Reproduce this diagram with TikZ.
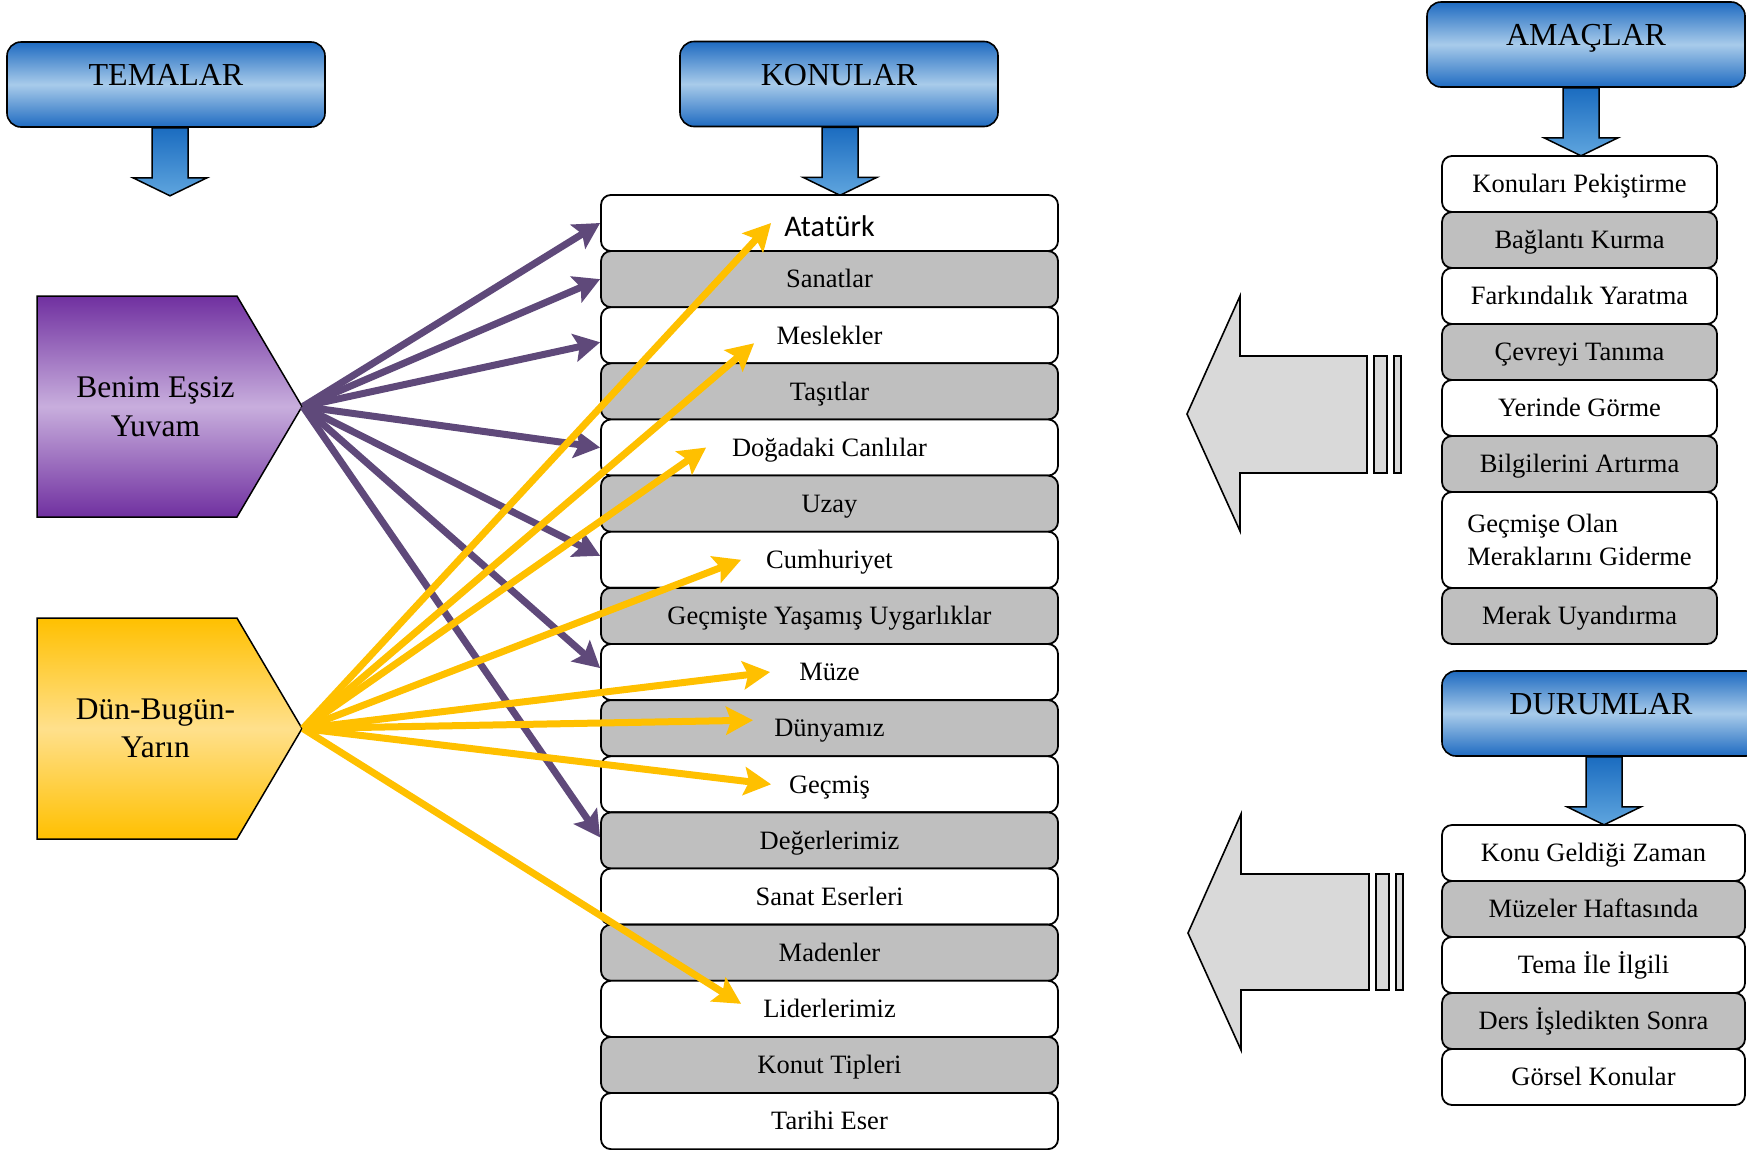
\documentclass[tikz,border=0pt]{standalone}
\usepackage{fontspec}
\setmainfont{Liberation Serif}
\newfontfamily\carlito{Carlito}
\usepackage{tikz}
\usetikzlibrary{calc, arrows.meta, shapes.symbols, positioning}

\definecolor{bluedark}{HTML}{1F6BC1}
\definecolor{bluelight}{HTML}{A8CBEA}
\definecolor{arrowtop}{HTML}{1B6CC0}
\definecolor{arrowbot}{HTML}{5FA5DE}
\definecolor{purpledark}{HTML}{7030A0}
\definecolor{purplelight}{HTML}{C8AEDD}
\definecolor{yellowdark}{HTML}{FFC000}
\definecolor{yellowlight}{HTML}{FFE08C}
\definecolor{rowgrey}{HTML}{BFBFBF}
\definecolor{arrowgrey}{HTML}{D9D9D9}
\definecolor{purpleline}{HTML}{5F497A}

\newcommand{\rowfont}{\fontsize{26.5}{33}\selectfont}
\newcommand{\headfont}{\fontsize{32}{39}\selectfont}
\newcommand{\themefont}{\fontsize{31.5}{38.5}\selectfont}

\tikzset{
    titlenode/.style = {draw, rectangle, rounded corners=14pt, line width=1.6pt, minimum width=318pt,
      minimum height=85pt, inner sep=0pt, text height=22pt, text depth=20pt,
      top color=bluedark, bottom color=bluedark, middle color=bluelight, font=\headfont},
    rownode/.style = {draw, rectangle, fill=white, rounded corners=10pt, line width=1.8pt, inner sep=0pt,
      minimum height=56.13pt, text height=23.5pt, text depth=6pt, node distance=0em, font=\rowfont},
    konurow/.style = {rownode, minimum width=457pt},
    amacrow/.style = {rownode, minimum width=275pt, minimum height=56pt},
    durumrow/.style = {rownode, minimum width=303pt, minimum height=56pt},
    themenode/.style = {draw, signal, signal to=east, signal pointer angle=119, line width=1.5pt,
      minimum width=265pt, minimum height=221pt, inner sep=0pt, align=center, font=\themefont, node distance=0em},
    downarrow/.style = {draw, line width=1.5pt, top color=arrowtop, bottom color=arrowbot},
    greyarrow/.style = {draw, line width=1.6pt, fill=arrowgrey},
    purpleconnect/.style = {purpleline, line width=7pt, -{Stealth[length=26pt, width=28pt, inset=5pt]}},
    yellowconnect/.style = {yellowdark, line width=7pt, -{Stealth[length=27pt, width=28pt, inset=5pt]}}
}

\begin{document}
\begin{tikzpicture}[x=1pt, y=-1pt]
    \useasboundingbox (0,0) rectangle (1747,1149);

    % headers
    \node [name=temalar, titlenode] at (166,84.5) {TEMALAR};
    \node [name=konular, titlenode] at (839,84) {KONULAR};
    \node [name=amaclar, titlenode] at (1586,44.5) {AMAÇLAR};
    \node [name=durumlar, titlenode] at (1601,713.5) {DURUMLAR};

    \draw [downarrow] ($(temalar.south)+(-14,0)$) -- ++(36,0) -- ++(0,50) -- ++(19,0) -- ++(-37,18) -- ++(-37,-18) -- ++(19,0) -- cycle;
    \draw [downarrow] ($(konular.south)+(-17,0)$) -- ++(36,0) -- ++(0,50) -- ++(19,0) -- ++(-37,18) -- ++(-37,-18) -- ++(19,0) -- cycle;
    \draw [downarrow] ($(amaclar.south)+(-23,0)$) -- ++(36,0) -- ++(0,50) -- ++(19,0) -- ++(-37,18) -- ++(-37,-18) -- ++(19,0) -- cycle;
    \draw [downarrow] ($(durumlar.south)+(-15,0)$) -- ++(36,0) -- ++(0,50) -- ++(19,0) -- ++(-37,18) -- ++(-37,-18) -- ++(19,0) -- cycle;

    % themes
    \node [name=benim, themenode, top color=purpledark, bottom color=purpledark, middle color=purplelight] at (137,406.5) {\hspace*{37pt}Benim Eşsiz\\\hspace*{37pt}Yuvam};
    \node [name=dun, themenode, top color=yellowdark, bottom color=yellowdark, middle color=yellowlight, below of=benim, yshift=-322pt] {\hspace*{37pt}Dün-Bugün-\\\hspace*{37pt}Yarın};

    % topics
    \node [name=ataturk, konurow, text height=26pt, text depth=0pt, font=\carlito\fontsize{30}{36}\selectfont] at (829.5,223) {Atatürk};
    \node [name=sanatlar, konurow, fill=rowgrey, below of=ataturk, yshift=-56.13pt] {Sanatlar};
    \node [name=meslekler, konurow, below of=sanatlar, yshift=-56.13pt] {Meslekler};
    \node [name=tasitlar, konurow, fill=rowgrey, below of=meslekler, yshift=-56.13pt] {Taşıtlar};
    \node [name=dogadaki, konurow, below of=tasitlar, yshift=-56.13pt] {Doğadaki Canlılar};
    \node [name=uzay, konurow, fill=rowgrey, below of=dogadaki, yshift=-56.13pt] {Uzay};
    \node [name=cumhuriyet, konurow, below of=uzay, yshift=-56.13pt] {Cumhuriyet};
    \node [name=uygarliklar, konurow, fill=rowgrey, below of=cumhuriyet, yshift=-56.13pt] {Geçmişte Yaşamış Uygarlıklar};
    \node [name=muze, konurow, below of=uygarliklar, yshift=-56.13pt] {Müze};
    \node [name=dunyamiz, konurow, fill=rowgrey, below of=muze, yshift=-56.13pt] {Dünyamız};
    \node [name=gecmis, konurow, below of=dunyamiz, yshift=-56.13pt] {Geçmiş};
    \node [name=degerler, konurow, fill=rowgrey, below of=gecmis, yshift=-56.13pt] {Değerlerimiz};
    \node [name=eserler, konurow, below of=degerler, yshift=-56.13pt] {Sanat Eserleri};
    \node [name=madenler, konurow, fill=rowgrey, below of=eserler, yshift=-56.13pt] {Madenler};
    \node [name=liderler, konurow, below of=madenler, yshift=-56.13pt] {Liderlerimiz};
    \node [name=konut, konurow, fill=rowgrey, below of=liderler, yshift=-56.13pt] {Konut Tipleri};
    \node [name=tarihi, konurow, below of=konut, yshift=-56.13pt] {Tarihi Eser};

    % aims
    \node [name=pekistirme, amacrow] at (1579.5,184) {Konuları Pekiştirme};
    \node [name=baglanti, amacrow, fill=rowgrey, below of=pekistirme, yshift=-56pt] {Bağlantı Kurma};
    \node [name=farkindalik, amacrow, below of=baglanti, yshift=-56pt] {Farkındalık Yaratma};
    \node [name=cevre, amacrow, fill=rowgrey, below of=farkindalik, yshift=-56pt] {Çevreyi Tanıma};
    \node [name=yerinde, amacrow, below of=cevre, yshift=-56pt] {Yerinde Görme};
    \node [name=bilgi, amacrow, fill=rowgrey, below of=yerinde, yshift=-56pt] {Bilgilerini Artırma};
    \node [name=gider, amacrow, minimum height=96pt, text height=, text depth=, align=left, below of=bilgi, yshift=-76pt] {Geçmişe Olan\\Meraklarını Giderme};
    \node [name=merak, amacrow, fill=rowgrey, below of=gider, yshift=-76pt] {Merak Uyandırma};

    % situations
    \node [name=geldigi, durumrow] at (1593.5,853) {Konu Geldiği Zaman};
    \node [name=haftasi, durumrow, fill=rowgrey, below of=geldigi, yshift=-56pt] {Müzeler Haftasında};
    \node [name=tema, durumrow, below of=haftasi, yshift=-56pt] {Tema İle İlgili};
    \node [name=ders, durumrow, fill=rowgrey, below of=tema, yshift=-56pt] {Ders İşledikten Sonra};
    \node [name=gorsel, durumrow, below of=ders, yshift=-56pt] {Görsel Konular};

    % big grey arrows
    \draw [greyarrow] (1187,414) -- (1240,296) -- (1240,356) -- (1367,356) -- (1367,473) -- (1240,473) -- (1240,531) -- cycle;
    \draw [greyarrow] (1374,356) rectangle (1387,473);
    \draw [greyarrow] (1394,356) rectangle (1401,473);
    \draw [greyarrow] (1188,933) -- (1241,814) -- (1241,874) -- (1369,874) -- (1369,990) -- (1241,990) -- (1241,1050) -- cycle;
    \draw [greyarrow] (1376,874) rectangle (1389,990);
    \draw [greyarrow] (1396,874) rectangle (1403,990);

    % connections
    \draw (benim.east) edge[purpleconnect] (ataturk.west);
    \draw (benim.east) edge[purpleconnect] (sanatlar.west);
    \draw (benim.east) edge[purpleconnect] ([yshift=-7pt]meslekler.west);
    \draw (benim.east) edge[purpleconnect] (dogadaki.west);
    \draw (benim.east) edge[purpleconnect] ([yshift=4pt]cumhuriyet.west);
    \draw (benim.east) edge[purpleconnect] ([yshift=4pt]muze.west);
    \draw (benim.east) edge[purpleconnect] ([yshift=3pt]degerler.west);

    \draw (dun.east) edge[yellowconnect] ([xshift=171pt]ataturk.west);
    \draw (dun.east) edge[yellowconnect] ([xshift=154pt, yshift=-8pt]meslekler.west);
    \draw (dun.east) edge[yellowconnect] ([xshift=106pt]dogadaki.west);
    \draw (dun.east) edge[yellowconnect] ([xshift=141pt]cumhuriyet.west);
    \draw (dun.east) edge[yellowconnect] ([xshift=170pt]muze.west);
    \draw (dun.east) edge[yellowconnect] ([xshift=153pt, yshift=8pt]dunyamiz.west);
    \draw (dun.east) edge[yellowconnect] ([xshift=171pt]gecmis.west);
    \draw (dun.east) edge[yellowconnect] ([xshift=141pt, yshift=5pt]liderler.west);
\end{tikzpicture}
\end{document}
